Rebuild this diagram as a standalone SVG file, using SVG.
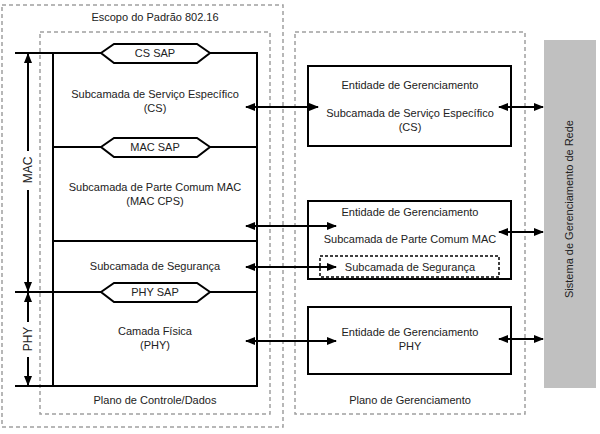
<svg xmlns="http://www.w3.org/2000/svg" width="600" height="434" viewBox="0 0 600 434">
<style>
text{font-family:"Liberation Sans",Arial,sans-serif;font-size:11px;fill:#222;text-anchor:middle}
.dash{fill:none;stroke:#a0a0a0;stroke-width:1.5;stroke-dasharray:4,3}
.ln{stroke:#000;stroke-width:2;fill:none}
.box{fill:#fff;stroke:#000;stroke-width:2}
.sap{fill:#fff;stroke:#000;stroke-width:2}
.arr{stroke:#000;stroke-width:2;fill:none;marker-start:url(#ah);marker-end:url(#ah)}
.arr1{stroke:#000;stroke-width:2;fill:none;marker-start:url(#ah)}
</style>
<defs>
<marker id="ah" viewBox="0 0 10 8" refX="9" refY="4" markerWidth="5" markerHeight="4" orient="auto-start-reverse" markerUnits="strokeWidth">
<path d="M0,0 L10,4 L0,8 Z" fill="#000"/>
</marker>
</defs>
<rect width="600" height="434" fill="#fff"/>
<g id="scope">
<rect class="dash" x="2" y="5" width="281" height="422"/>
<text x="155" y="21">Escopo do Padrão 802.16</text>
</g>
<g id="control-plane">
<rect class="dash" x="40" y="32" width="230" height="382"/>
<text x="155" y="404">Plano de Controle/Dados</text>
</g>
<g id="mgmt-plane">
<rect class="dash" x="295" y="32" width="230" height="382"/>
<text x="410" y="404">Plano de Gerenciamento</text>
</g>
<g id="stack">
<path class="ln" d="M15,53 H257 V386 H15 M53,53 V386 M53,147 H257 M53,241 H257 M15,292 H257"/>
</g>
<g id="cs-sap">
<polygon class="sap" points="101,53 114,44 197,44 210,53 197,63 114,63"/>
<text x="155" y="57">CS SAP</text>
</g>
<g id="cs">
<text x="155" y="98">Subcamada de Serviço Específico</text>
<text x="155" y="112">(CS)</text>
</g>
<g id="mac-sap">
<polygon class="sap" points="101,147 114,138 197,138 210,147 197,157 114,157"/>
<text x="155" y="151">MAC SAP</text>
</g>
<g id="mac-cps">
<text x="155" y="191">Subcamada de Parte Comum MAC</text>
<text x="155" y="205">(MAC CPS)</text>
</g>
<g id="security">
<text x="155" y="270">Subcamada de Segurança</text>
</g>
<g id="phy-sap">
<polygon class="sap" points="101,292 114,283 197,283 210,292 197,302 114,302"/>
<text x="155" y="296">PHY SAP</text>
</g>
<g id="phy">
<text x="155" y="335">Camada Física</text>
<text x="155" y="349">(PHY)</text>
</g>
<g id="mac-span">
<text transform="translate(32,170) rotate(-90)" style="font-size:12px">MAC</text>
</g>
<g id="phy-span">
<text transform="translate(32,339) rotate(-90)" style="font-size:12px">PHY</text>
</g>
<g id="me-cs">
<rect class="box" x="308" y="66" width="203" height="80"/>
<text x="410" y="89">Entidade de Gerenciamento</text>
<text x="410" y="117">Subcamada de Serviço Específico</text>
<text x="410" y="131">(CS)</text>
</g>
<g id="me-mac">
<rect class="box" x="308" y="201" width="203" height="78"/>
<text x="410" y="216">Entidade de Gerenciamento</text>
<text x="410" y="243">Subcamada de Parte Comum MAC</text>
<rect x="320" y="256" width="179" height="21" fill="none" stroke="#000" stroke-width="1.5" stroke-dasharray="3,2"/>
<text x="410" y="271">Subcamada de Segurança</text>
</g>
<g id="me-phy">
<rect class="box" x="308" y="307" width="203" height="67"/>
<text x="410" y="336">Entidade de Gerenciamento</text>
<text x="410" y="350">PHY</text>
</g>
<g id="nms">
<rect x="544" y="40" width="52" height="348" fill="#c0c0c0"/>
<text transform="translate(573,209) rotate(-90)">Sistema de Gerenciamento de Rede</text>
</g>
<g id="connectors">
<path class="arr1" d="M28,54 V151"/>
<path class="arr1" d="M28,291 V190"/>
<path class="arr1" d="M28,293 V322"/>
<path class="arr1" d="M28,385 V357"/>
<path class="arr" d="M246,107 H318"/>
<path class="arr" d="M246,226 H336"/>
<path class="arr" d="M246,267 H336"/>
<path class="arr" d="M246,341 H336"/>
<path class="arr" d="M499,107 H543"/>
<path class="arr" d="M499,232 H543"/>
<path class="arr" d="M499,339 H543"/>
</g>
</svg>
